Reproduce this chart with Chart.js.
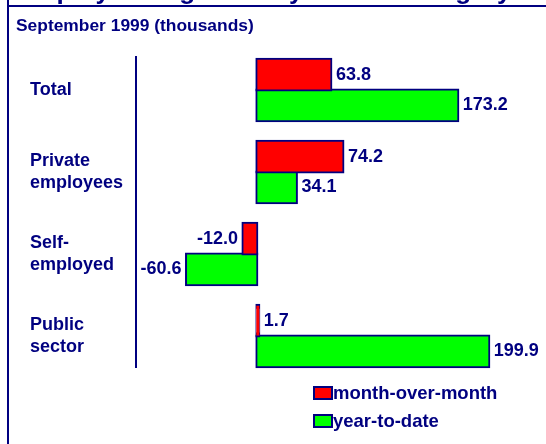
<!DOCTYPE html>
<html lang="en">

<head>
  <meta charset="UTF-8" />
  <title>Employment growth by worker category</title>
  <script src="https://cdn.jsdelivr.net/npm/chart.js"></script>
  <style>
    body { margin: 0; background: #ffffff; }
    canvas { display: block; }
  </style>
</head>

<body>
  <canvas id="canvas_grafico" width="546" height="444"></canvas>
</body>

</html>
<script>

  // dados do grafico
  var categorias = [["Total"], ["Private", "employees"], ["Self-", "employed"], ["Public", "sector"]];
  var nomes_series = ["month-over-month", "year-to-date"];
  var valores_mes = [63.8, 74.2, -12.0, 1.7];
  var valores_ano = [173.2, 34.1, -60.6, 199.9];

  var titulo = "Employment growth by worker category";
  var subtitulo = "September 1999 (thousands)";

  var azul = "#000080";
  var fonte = "'Liberation Sans', Arial, sans-serif";

  // moldura, titulo cortado e subtitulo
  const plugin_moldura = {
    id: "moldura",
    beforeDraw(chart) {
      const ctx = chart.ctx;
      ctx.save();
      ctx.fillStyle = "#ffffff";
      ctx.fillRect(0, 0, chart.width, chart.height);
      ctx.strokeStyle = azul;
      ctx.lineWidth = 2;
      ctx.beginPath();
      ctx.moveTo(8, 0);
      ctx.lineTo(8, chart.height);
      ctx.moveTo(8, 6);
      ctx.lineTo(chart.width, 6);
      ctx.stroke();

      ctx.fillStyle = azul;
      ctx.textAlign = "left";
      ctx.textBaseline = "alphabetic";
      ctx.font = "bold 26px " + fonte;
      ctx.fillText(titulo, 16, -1);
      ctx.font = "bold 17.4px " + fonte;
      ctx.fillText(subtitulo, 16, 31);

      // linha do eixo
      const area = chart.chartArea;
      ctx.beginPath();
      ctx.moveTo(area.left + 1, area.top + 7);
      ctx.lineTo(area.left + 1, area.bottom - 9);
      ctx.stroke();
      ctx.restore();
    },
  };

  // rotulos de valor na ponta das barras
  const plugin_valores = {
    id: "valores",
    afterDatasetsDraw(chart) {
      const ctx = chart.ctx;
      ctx.save();
      ctx.fillStyle = azul;
      ctx.font = "bold 18px " + fonte;
      ctx.textBaseline = "middle";
      chart.data.datasets.forEach((dataset, i) => {
        const meta = chart.getDatasetMeta(i);
        meta.data.forEach((barra, j) => {
          const valor = dataset.data[j];
          if (valor >= 0) {
            ctx.textAlign = "left";
            ctx.fillText(valor.toFixed(1), barra.x + 5, barra.y);
          } else {
            ctx.textAlign = "right";
            ctx.fillText(valor.toFixed(1), barra.x - 5, barra.y);
          }
        });
      });
      ctx.restore();
    },
  };

  // legenda em duas linhas no canto inferior
  const plugin_legenda = {
    id: "legenda",
    afterDraw(chart) {
      const ctx = chart.ctx;
      const area = chart.chartArea;
      ctx.save();
      ctx.font = "bold 18.5px " + fonte;
      ctx.textAlign = "left";
      ctx.textBaseline = "middle";
      chart.data.datasets.forEach((dataset, i) => {
        const y = area.bottom + 16 + i * 28;
        ctx.fillStyle = dataset.backgroundColor;
        ctx.fillRect(314, y - 6, 18, 12);
        ctx.strokeStyle = azul;
        ctx.lineWidth = 2;
        ctx.strokeRect(314, y - 6, 18, 12);
        ctx.fillStyle = azul;
        ctx.fillText(dataset.label, 333, y + 1);
      });
      ctx.restore();
    },
  };

  function criar_grafico() {
    const grafico = document.getElementById("canvas_grafico");
    new Chart(grafico, {
      type: "bar",
      data: {
        labels: categorias,
        datasets: [
          {
            label: nomes_series[0],
            data: valores_mes,
            backgroundColor: "#ff0000",
            borderColor: azul,
            borderWidth: 2,
            borderSkipped: false,
            inflateAmount: 1.5,
          },
          {
            label: nomes_series[1],
            data: valores_ano,
            backgroundColor: "#00ff00",
            borderColor: azul,
            borderWidth: 2,
            borderSkipped: false,
            inflateAmount: 1.5,
          },
        ],
      },
      options: {
        indexAxis: "y",
        responsive: false,
        animation: false,
        categoryPercentage: 0.75,
        barPercentage: 1.0,
        layout: {
          padding: { top: 49, left: 30, right: 6, bottom: 67 },
        },
        scales: {
          x: {
            display: false,
            min: -105,
            max: 244,
          },
          y: {
            grid: { display: false },
            border: { display: false },
            ticks: {
              crossAlign: "far",
              color: azul,
              font: { family: fonte, size: 18, weight: "bold", lineHeight: 1.22 },
            },
            afterFit(escala) {
              escala.width = 105;
            },
          },
        },
        plugins: {
          legend: { display: false },
          tooltip: { enabled: false },
        },
      },
      plugins: [plugin_moldura, plugin_valores, plugin_legenda],
    });
  }

  criar_grafico();

</script>
